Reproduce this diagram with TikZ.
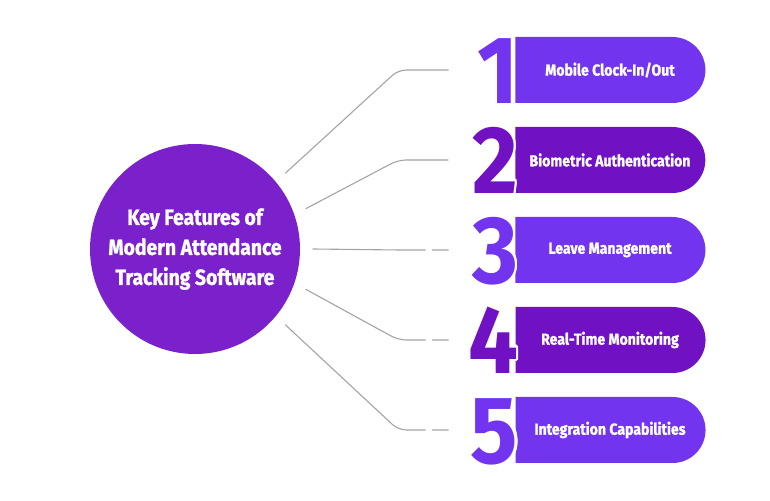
\documentclass[tikz,border=0pt]{standalone}
\usepackage{fontspec}
\newfontfamily\condfont{Fira Sans}[FakeStretch=0.88, BoldFeatures={FakeBold=1.2}]
\newfontfamily\numfont{Fira Sans}[FakeStretch=0.92]
\usetikzlibrary{positioning,calc,shapes.misc}
\definecolor{violetA}{HTML}{7234EE}
\definecolor{violetB}{HTML}{7011C4}
\definecolor{hubcol}{HTML}{7A21CB}
\definecolor{linkgray}{HTML}{A3A3A3}
\tikzset{
	hub/.style={circle, fill=hubcol, minimum size=210pt, inner sep=0pt, text=white, align=center, font=\condfont\bfseries\fontsize{22}{30}\selectfont},
	pill/.style={rounded rectangle, rounded rectangle left arc=none, minimum width=190pt, minimum height=66pt, inner sep=0pt, text=white, font=\condfont\bfseries\fontsize{16}{18}\selectfont},
	digit/.style={inner sep=0pt, anchor=base east, font=\numfont\bfseries\fontsize{96}{96}\selectfont},
	link/.style={draw=linkgray, line width=1.1pt, rounded corners=8pt, line cap=round}
}
\begin{document}
\begin{tikzpicture}[x=1pt, y=1pt]
	\useasboundingbox (0,0) rectangle (770,500);
	\node[hub] (hub) at (195,251) {Key Features of\\Modern Attendance\\Tracking Software};
	% feature pills with big numerals
	\foreach \i/\txt/\col in {1/{Mobile Clock-In/Out}/violetA, 2/{Biometric Authentication}/violetB, 3/{Leave Management}/violetA, 4/{Real-Time Monitoring}/violetB, 5/{Integration Capabilities}/violetA}{
		\node[pill, fill=\col] (p\i) at (610,{520-90*\i}) {\txt};
		\foreach \a in {0,30,...,330} \node[digit, text=white] at ($(p\i.south west)+(3,0)+(\a:2.6)$) {\i};
		\node[digit, text=\col] (d\i) at ($(p\i.south west)+(3,0)$) {\i};
		\coordinate (s\i) at ($(hub.center)+({60-20*\i}:118)$);
		\coordinate (e\i) at ($(p\i.west)+(-67,0)$);
	}
	% connectors
	\foreach \i in {1,2} \draw[link] (s\i) -- ($(p\i.west)+(-117,0)$) -- (e\i);
	\foreach \i in {3,4,5} \draw[link] (s\i) -- ($(p\i.west)+(-117,0)$) -- ($(p\i.west)+(-90,0)$) ($(p\i.west)+(-83,0)$) -- (e\i);
\end{tikzpicture}
\end{document}
